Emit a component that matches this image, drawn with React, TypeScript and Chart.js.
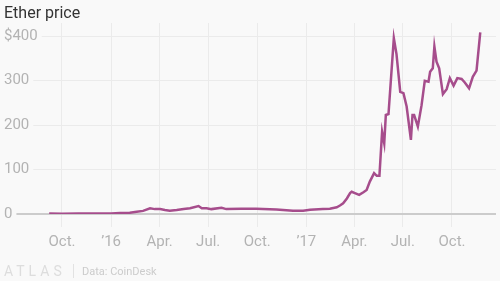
import React, { useEffect, useRef } from "react";
import { Chart, registerables } from "chart.js";

Chart.register(...registerables);

const TITLE = "Ether price";
const SOURCE = "Data: CoinDesk";

const dates: string[] = [
  "2015-09-07", "2015-10-01", "2015-11-01", "2015-12-01", "2016-01-01", "2016-01-18",
  "2016-02-05", "2016-02-18", "2016-03-01", "2016-03-14", "2016-03-23", "2016-04-02",
  "2016-04-11", "2016-04-20", "2016-05-03", "2016-05-16", "2016-05-28", "2016-06-13",
  "2016-06-19", "2016-06-28", "2016-07-07", "2016-07-26", "2016-08-04", "2016-09-01",
  "2016-09-29", "2016-11-06", "2016-12-07", "2016-12-26", "2017-01-08", "2017-02-01",
  "2017-02-14", "2017-02-27", "2017-03-05", "2017-03-11", "2017-03-18", "2017-03-24",
  "2017-03-27", "2017-04-02", "2017-04-10", "2017-04-18", "2017-04-24", "2017-04-30",
  "2017-05-08", "2017-05-13", "2017-05-18", "2017-05-23", "2017-05-27", "2017-05-30",
  "2017-06-04", "2017-06-14", "2017-06-19", "2017-06-26", "2017-07-02", "2017-07-08",
  "2017-07-16", "2017-07-19", "2017-07-22", "2017-07-29", "2017-08-05", "2017-08-11",
  "2017-08-18", "2017-08-21", "2017-08-26", "2017-08-29", "2017-09-02", "2017-09-07",
  "2017-09-14", "2017-09-21", "2017-09-27", "2017-10-04", "2017-10-11", "2017-10-19",
  "2017-10-25", "2017-11-02", "2017-11-09", "2017-11-16", "2017-11-23",
];

const prices: number[] = [
  1.2, 0.8, 0.9, 0.9, 1.0, 2,
  3, 5, 7, 13, 11, 11,
  9, 7.5, 9, 11, 13, 18,
  13, 13, 11, 14, 11, 12,
  12, 10, 7.5, 7.5, 9.5, 11,
  12, 15, 19, 24, 35, 47,
  50, 47, 43, 49, 54, 73,
  92, 86, 86, 185, 159, 223,
  225, 396, 360, 275, 272, 242,
  167, 223, 223, 197, 245, 300,
  298, 320, 328, 377, 343, 328,
  270, 281, 306, 289, 306, 304,
  296, 283, 309, 323, 409,
];

const tickDates: string[] = [
  "2015-10-01", "2016-01-01", "2016-04-01", "2016-07-01", "2016-10-01",
  "2017-01-01", "2017-04-01", "2017-07-01", "2017-10-01",
];
const tickLabels: string[] = ["Oct.", "\u201916", "Apr.", "Jul.", "Oct.", "\u201917", "Apr.", "Jul.", "Oct."];

const yTicks: number[] = [0, 100, 200, 300, 400];

const EPOCH = Date.UTC(2015, 0, 1);
const toDay = (s: string) => {
  const [y, m, d] = s.split("-").map(Number);
  return (Date.UTC(y, m - 1, d) - EPOCH) / 86400000;
};

const BG = "#f9f9f9";
const FONT = "Roboto, 'Noto Sans', sans-serif";

export default function App() {
  const ref = useRef<HTMLCanvasElement | null>(null);

  useEffect(() => {
    document.body.style.margin = "0";
    const canvas = ref.current;
    if (!canvas) return;

    const decor = {
      id: "decor",
      beforeDraw(chart: any) {
        const ctx = chart.ctx;
        ctx.save();
        ctx.fillStyle = BG;
        ctx.fillRect(0, 0, chart.width, chart.height);
        ctx.restore();
      },
      afterDraw(chart: any) {
        const ctx = chart.ctx;
        ctx.save();
        ctx.fillStyle = "#333333";
        ctx.font = `16px ${FONT}`;
        ctx.textBaseline = "alphabetic";
        ctx.fillText(TITLE, 4, 18);

        ctx.fillStyle = "#dddddd";
        ctx.font = `14px ${FONT}`;
        (ctx as any).letterSpacing = "4px";
        ctx.fillText("ATLAS", 4, 276);
        (ctx as any).letterSpacing = "0px";

        ctx.strokeStyle = "#e2e2e2";
        ctx.lineWidth = 1;
        ctx.beginPath();
        ctx.moveTo(73.5, 264);
        ctx.lineTo(73.5, 278);
        ctx.stroke();

        ctx.fillStyle = "#cccccc";
        ctx.font = `11px ${FONT}`;
        ctx.fillText(SOURCE, 82, 275);
        ctx.restore();
      },
    };

    const chart = new Chart(canvas, {
      type: "line",
      data: {
        datasets: [
          {
            data: dates.map((d, i) => ({ x: toDay(d), y: prices[i] })),
            borderColor: "#a64d8c",
            borderWidth: 2.5,
            pointRadius: 0,
            tension: 0,
            fill: false,
          },
        ],
      },
      plugins: [decor],
      options: {
        animation: false,
        responsive: false,
        devicePixelRatio: 1,
        layout: { padding: { top: 23, left: 4, right: 4, bottom: 27 } },
        plugins: {
          legend: { display: false },
          tooltip: { enabled: false },
          title: { display: false },
        },
        scales: {
          x: {
            type: "linear",
            min: 164.3,
            max: 1086.5,
            afterBuildTicks: (scale: any) => {
              scale.ticks = tickDates.map((d) => ({ value: toDay(d) }));
            },
            afterFit: (scale: any) => {
              scale.height = 40;
            },
            grid: {
              color: "#ebebeb",
              lineWidth: 1,
              drawTicks: true,
              tickLength: 13,
              tickColor: "#ebebeb",
            },
            border: { display: false },
            ticks: {
              color: "#b3b3b3",
              font: { family: FONT, size: 15 },
              padding: 6,
              maxRotation: 0,
              autoSkip: false,
              callback: (_v: any, i: number) => tickLabels[i],
            },
          },
          y: {
            type: "linear",
            min: 0,
            max: 430,
            afterBuildTicks: (scale: any) => {
              scale.ticks = yTicks.map((v) => ({ value: v }));
            },
            grid: {
              color: (c: any) => (c.tick && c.tick.value === 0 ? "#cccccc" : "#ebebeb"),
              lineWidth: (c: any) => (c.tick && c.tick.value === 0 ? 2 : 1),
              drawTicks: false,
            },
            border: { display: false },
            ticks: {
              mirror: true,
              padding: 0,
              color: "#b3b3b3",
              font: { family: FONT, size: 15 },
              showLabelBackdrop: true,
              backdropColor: BG,
              backdropPadding: { top: 0, bottom: 0, left: 0, right: 4 },
              callback: (v: any) => (v === 400 ? "$400" : String(v)),
            },
          },
        },
      },
    } as any);

    return () => chart.destroy();
  }, []);

  return <canvas ref={ref} width={500} height={281} style={{ display: "block" }} />;
}
